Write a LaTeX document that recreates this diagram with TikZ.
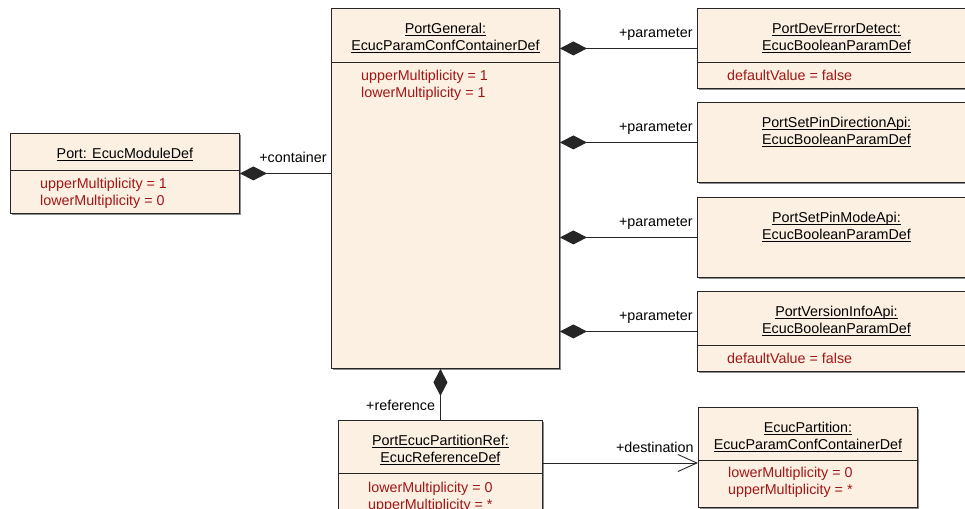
\documentclass[tikz,border=0pt]{standalone}
\usepackage{fontspec}
\setmainfont{Liberation Sans}
\usetikzlibrary{arrows.meta, positioning, shadows}

\definecolor{boxfill}{RGB}{251,240,226}
\definecolor{attrred}{RGB}{163,22,22}

\newcommand{\uln}[1]{\leavevmode\setbox0\hbox{#1}\rlap{\rule[-2.6pt]{\wd0}{0.8pt}}\box0}

\tikzset{
    umlbox/.style={draw=black!85, line width=0.9pt, fill=boxfill, inner sep=0pt, anchor=north west,
        drop shadow={shadow xshift=1.3pt, shadow yshift=-1.3pt, fill=black!45, opacity=1}},
    sepline/.style={draw=black!85, line width=0.9pt},
    title/.style={anchor=north, inner sep=0pt, align=center, font=\fontsize{14.3}{17}\selectfont},
    attr/.style={anchor=north west, inner sep=0pt, align=left, text=attrred, font=\fontsize{14.3}{17}\selectfont},
    role/.style={anchor=base east, inner sep=0pt, xshift=-4pt, yshift=11pt, font=\fontsize{14.3}{17}\selectfont},
    comp/.style={draw=black!85, line width=0.9pt, -{Diamond[length=27pt, width=14pt]}},
    dest/.style={draw=black!85, line width=0.9pt, -{Straight Barb[length=19pt, width=17pt]}}
}

\begin{document}
\begin{tikzpicture}[x=1pt, y=-1pt]
        \useasboundingbox (0,0) rectangle (965,508);
        \clip (0,0) rectangle (965,508);

        % module
        \node[umlbox, minimum width=229pt, minimum height=80pt] (port) at (10,133) {};
        \node[title] (port-t) at ([yshift=-15pt]port.north) {\uln{Port: EcucModuleDef}};
        \draw[sepline] ([yshift=-37pt]port.north west) -- ([yshift=-37pt]port.north east);
        \node[attr] (port-a) at ([xshift=30pt, yshift=-45pt]port.north west) {upperMultiplicity = 1\\lowerMultiplicity = 0};

        % general container
        \node[umlbox, minimum width=228pt, minimum height=360pt] (gen) at (331,8) {};
        \node[title] (gen-t) at ([yshift=-15pt]gen.north) {\uln{PortGeneral:}\\\uln{EcucParamConfContainerDef}};
        \draw[sepline] ([yshift=-54pt]gen.north west) -- ([yshift=-54pt]gen.north east);
        \node[attr] (gen-a) at ([xshift=30pt, yshift=-62pt]gen.north west) {upperMultiplicity = 1\\lowerMultiplicity = 1};

        \draw[comp] (gen.west |- port.east) node[role] {+container} -- (port.east);

        % parameters
        \foreach \n/\y/\t in {1/8/PortDevErrorDetect, 2/102/PortSetPinDirectionApi, 3/197/PortSetPinModeApi, 4/291/PortVersionInfoApi} {
            \node[umlbox, minimum width=278pt, minimum height=80pt] (par\n) at (697,\y) {};
            \node[title] (par\n-t) at ([yshift=-15pt]par\n.north) {\uln{\t:}\\\uln{EcucBooleanParamDef}};
            \draw[comp] (par\n.west) node[role] {+parameter} -- (gen.east |- par\n.west);
        }
        \foreach \n in {1, 4} {
            \draw[sepline] ([yshift=-54pt]par\n.north west) -- ([yshift=-54pt]par\n.north east);
            \node[attr] (par\n-a) at ([xshift=30pt, yshift=-62pt]par\n.north west) {defaultValue = false};
        }

        % reference
        \node[umlbox, minimum width=204pt, minimum height=110pt] (ref) at (338,420) {};
        \node[title] (ref-t) at ([yshift=-15pt]ref.north) {\uln{PortEcucPartitionRef:}\\\uln{EcucReferenceDef}};
        \draw[sepline] ([yshift=-53pt]ref.north west) -- ([yshift=-53pt]ref.north east);
        \node[attr] (ref-a) at ([xshift=30pt, yshift=-62pt]ref.north west) {lowerMultiplicity = 0\\upperMultiplicity = *};

        \draw[comp] (ref.north) node[role, xshift=-1pt, yshift=-1pt] {+reference} -- (ref.north |- gen.south);

        % partition
        \node[umlbox, minimum width=219pt, minimum height=100pt] (part) at (698,407) {};
        \node[title] (part-t) at ([yshift=-15pt]part.north) {\uln{EcucPartition:}\\\uln{EcucParamConfContainerDef}};
        \draw[sepline] ([yshift=-53pt]part.north west) -- ([yshift=-53pt]part.north east);
        \node[attr] (part-a) at ([xshift=30pt, yshift=-60pt]part.north west) {lowerMultiplicity = 0\\upperMultiplicity = *};

        \coordinate (dst) at ([yshift=-56pt]part.north west);
        \draw[dest] (ref.east |- dst) -- (dst) node[role] {+destination};
    \end{tikzpicture}
\end{document}
